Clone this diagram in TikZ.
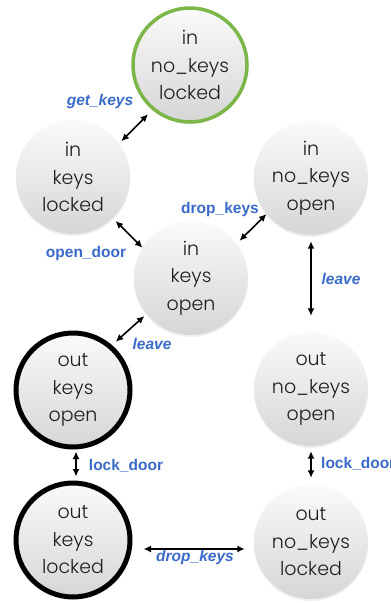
\documentclass[tikz,border=0pt]{standalone}
\usepackage{fontspec}
\setmainfont{Poppins Light}
\newfontfamily\labelfont{Liberation Sans}
\usetikzlibrary{arrows.meta,shadows}
\definecolor{lblblue}{HTML}{3A6BC9}
\definecolor{startgreen}{HTML}{7AB648}
\definecolor{statetext}{HTML}{1E1E1E}
\tikzset{
  state/.style={circle, minimum size=114pt, inner sep=0pt, align=center,
    top color=gray!4, bottom color=gray!32, draw=none,
    drop shadow={opacity=0.12, shadow xshift=0pt, shadow yshift=-2pt},
    text=statetext, font=\fontsize{19}{27.5}\selectfont},
  startstate/.style={state, draw=startgreen, line width=3.5pt},
  finalstate/.style={state, draw=black, line width=5pt},
  trans/.style={{Latex[length=7.5pt,width=7pt]}-{Latex[length=7.5pt,width=7pt]}, line width=1.6pt, black},
  lbl/.style={text=lblblue, font=\labelfont\fontsize{15.5}{17}\selectfont\bfseries, inner sep=0pt},
  ilbl/.style={lbl, font=\labelfont\fontsize{15.5}{17}\selectfont\bfseries\itshape}
}
\begin{document}
\begin{tikzpicture}[x=1pt,y=-1pt]
\clip (0,0) rectangle (391,603);
\useasboundingbox (0,0) rectangle (391,603);
\fill[white] (0,0) rectangle (391,603);

% states
\node[startstate] (inNKL) at (190,65)  {in\\no\_keys\\locked};
\node[state]      (inKL)  at (73,177)  {in\\keys\\locked};
\node[state]      (inNKO) at (311,178) {in\\no\_keys\\open};
\node[state]      (inKO)  at (191,278) {in\\keys\\open};
\node[finalstate] (outKO) at (73,390)  {out\\keys\\open};
\node[state]      (outNKO) at (311,389) {out\\no\_keys\\open};
\node[finalstate] (outKL) at (73,540)  {out\\keys\\locked};
\node[state]      (outNKL) at (311,542) {out\\no\_keys\\locked};

% transitions
\draw[trans, shorten <=3pt, shorten >=6pt] (inKL.36) -- (inNKL.230);
\draw[trans, shorten <=4pt, shorten >=0pt] (inKL.-46) -- (inKO.148);
\draw[trans, shorten <=4pt, shorten >=0pt] (inKO.37) -- (inNKO.219);
\draw[trans, shorten <=6pt, shorten >=16pt] (inNKO.south) -- (outNKO.north);
\draw[trans, shorten <=3pt, shorten >=5pt] (inKO.219) -- (outKO.49);
\draw[trans, shorten <=2pt, shorten >=4pt] ([xshift=3pt]outKO.south) -- ([xshift=3pt]outKL.north);
\draw[trans, shorten <=5pt, shorten >=7pt] (outNKO.south) -- (outNKL.north);
\draw[trans, shorten <=11pt, shorten >=9pt] ([yshift=-9pt]outKL.east) -- ([yshift=-7pt]outNKL.west);

% transition labels
\node[ilbl] (lGet)   at (100,101) {get\_keys};
\node[lbl]  (lOpen)  at (86,253)  {open\_door};
\node[lbl]  (lDrop)  at (220,209) {drop\_keys};
\node[ilbl] (lLeaveR) at (341,279) {leave};
\node[ilbl] (lLeaveL) at (152,344) {leave};
\node[lbl]  (lLockL) at (126,466) {lock\_door};
\node[lbl, anchor=west] (lLockR) at (321,464) {lock\_door};
\node[ilbl] (lDropB) at (195,557) {drop\_keys};
\end{tikzpicture}
\end{document}
